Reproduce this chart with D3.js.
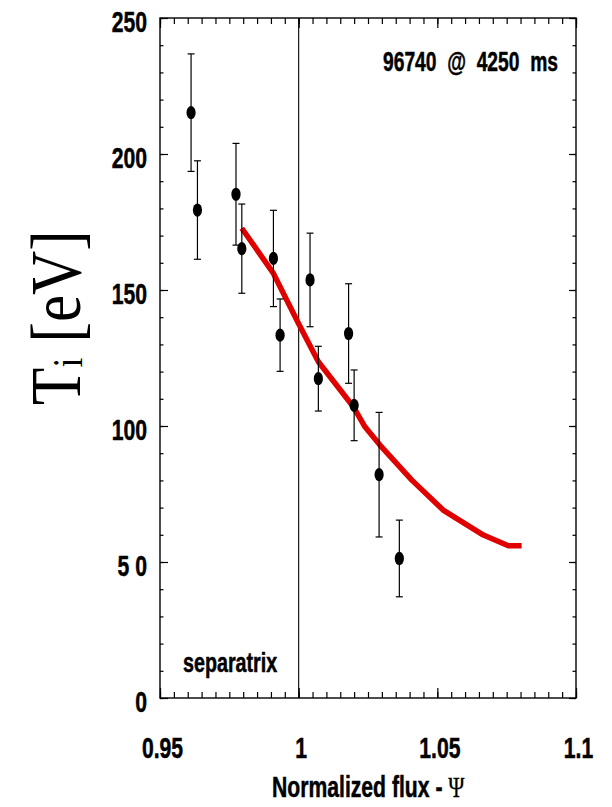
<!DOCTYPE html>
<html>
<head>
<meta charset="utf-8">
<script src="https://cdn.jsdelivr.net/npm/d3@7"></script>
<style>
  html, body { margin: 0; padding: 0; background: #fff; }
  svg { display: block; }
</style>
</head>
<body>
<svg id="chart" width="612" height="807"></svg>
<script>
// Measured ion temperature profile, shot 96740 at 4250 ms
const psi   = [0.9612, 0.9635, 0.9774, 0.9795, 0.9909, 0.9933, 1.0041, 1.0071, 1.0180, 1.0200, 1.0290, 1.0363];
const ti    = [215.2, 179.4, 185.2, 165.2, 161.6, 133.4, 153.7, 117.4, 134.0, 107.6, 82.1, 51.3];
const tiErr = [21.6, 18.1, 18.7, 16.4, 17.7, 13.3, 17.2, 11.9, 18.3, 13.0, 22.9, 14.1];

// Modelled profile (red curve)
const fitPsi = [0.9795, 0.9909, 0.9999, 1.0071, 1.0197, 1.0239, 1.0293, 1.0408, 1.0521, 1.0666, 1.0756, 1.0804];
const fitTi  = [172.7, 156.1, 137.8, 123.6, 107.1, 99.7, 93.0, 80.1, 69.1, 59.9, 56.0, 56.0];

// Axis ticks and labels
const xTicks  = [0.95, 1.0, 1.05, 1.1];
const xLabels = ["0.95", "1", "1.05", "1.1"];
const yTicks  = [0, 50, 100, 150, 200, 250];
const yLabels = ["0", "5 0", "100", "150", "200", "250"];
const separatrixPsi = 1.0;

const svg = d3.select("#chart");
const plotL = 160, plotR = 576, plotT = 18, plotB = 698;
const SANS = "'Liberation Sans', Arial, Helvetica, sans-serif";
const SERIF = "'Liberation Serif', 'Times New Roman', serif";
const NARROW = 0.73;

const x = d3.scaleLinear().domain([0.95, 1.1]).range([plotL, plotR]);
const y = d3.scaleLinear().domain([0, 250]).range([plotB, plotT]);

const xMinor = d3.range(0, 31).map(i => 0.95 + i * 0.005);
const yMinor = d3.range(0, 26).map(i => i * 10);

function styleAxis(g) {
  g.select(".domain").remove();
  g.selectAll("line").attr("stroke", "#000").attr("stroke-width", 1.2);
}

// inward-pointing ticks on all four sides
svg.append("g").attr("transform", `translate(0,${plotB})`)
  .call(d3.axisBottom(x).tickValues(xMinor).tickSize(-6).tickFormat("")).call(styleAxis);
svg.append("g").attr("transform", `translate(0,${plotB})`)
  .call(d3.axisBottom(x).tickValues(xTicks).tickSize(-10).tickFormat("")).call(styleAxis);
svg.append("g").attr("transform", `translate(0,${plotT})`)
  .call(d3.axisTop(x).tickValues(xMinor).tickSize(-6).tickFormat("")).call(styleAxis);
svg.append("g").attr("transform", `translate(0,${plotT})`)
  .call(d3.axisTop(x).tickValues(xTicks).tickSize(-10).tickFormat("")).call(styleAxis);
svg.append("g").attr("transform", `translate(${plotL},0)`)
  .call(d3.axisLeft(y).tickValues(yMinor).tickSize(-3.5).tickFormat("")).call(styleAxis);
svg.append("g").attr("transform", `translate(${plotL},0)`)
  .call(d3.axisLeft(y).tickValues(yTicks).tickSize(-8).tickFormat("")).call(styleAxis);
svg.append("g").attr("transform", `translate(${plotR},0)`)
  .call(d3.axisRight(y).tickValues(yMinor).tickSize(-3.5).tickFormat("")).call(styleAxis);
svg.append("g").attr("transform", `translate(${plotR},0)`)
  .call(d3.axisRight(y).tickValues(yTicks).tickSize(-7).tickFormat("")).call(styleAxis);

// frame
svg.append("rect")
  .attr("x", plotL).attr("y", plotT)
  .attr("width", plotR - plotL).attr("height", plotB - plotT)
  .attr("fill", "none").attr("stroke", "#000").attr("stroke-width", 1.4);

// separatrix line
svg.append("line")
  .attr("x1", x(separatrixPsi)).attr("x2", x(separatrixPsi))
  .attr("y1", plotT).attr("y2", plotB)
  .attr("stroke", "#000").attr("stroke-width", 1.1);

// condensed heavy label helper
function narrowText(px, py, str, size, anchor) {
  return svg.append("text")
    .attr("transform", `translate(${px},${py}) scale(${NARROW},1)`)
    .attr("text-anchor", anchor)
    .attr("font-family", SANS)
    .attr("font-weight", "bold")
    .attr("font-size", size)
    .attr("fill", "#000")
    .attr("stroke", "#000")
    .attr("stroke-width", 0.5)
    .style("white-space", "pre")
    .text(str);
}

yTicks.forEach((v, i) => narrowText(147, y(v) + 14, yLabels[i], 29, "end"));
xTicks.forEach((v, i) => narrowText(x(v) + 2.5, 758, xLabels[i], 29, "middle"));

narrowText(383, 71, "96740  @  4250  ms", 28, "start")
  .attr("textLength", 175 / NARROW).attr("lengthAdjust", "spacingAndGlyphs");
narrowText(183, 672, "separatrix", 27, "start");

// x-axis title with serif Psi
const xt = narrowText(272, 797, "", 29, "start");
xt.append("tspan").text("Normalized flux - ");
xt.append("tspan").attr("font-family", SERIF).attr("font-weight", "normal")
  .attr("stroke-width", 0.3).attr("font-size", 30).text("\u03A8");

// y-axis title (serif, slightly compressed along the text)
const yt = svg.append("text")
  .attr("transform", "translate(80,405) rotate(-90) scale(0.85,1)")
  .attr("font-family", SERIF)
  .attr("font-size", 72)
  .attr("fill", "#000");
yt.append("tspan").text("T");
yt.append("tspan").attr("font-size", 42).attr("dy", 2).text("i");
yt.append("tspan").attr("dy", -2).text(" [eV]");

// model curve
const line = d3.line().x(d => x(d[0])).y(d => y(d[1]));
svg.append("path")
  .datum(fitPsi.map((p, i) => [p, fitTi[i]]))
  .attr("d", line)
  .attr("fill", "none")
  .attr("stroke", "#e00000")
  .attr("stroke-width", 5.5)
  .attr("stroke-linejoin", "round");

// error bars and markers
const pts = psi.map((p, i) => ({ p, t: ti[i], e: tiErr[i] }));
const eb = svg.append("g").attr("stroke", "#000").attr("stroke-width", 1.2);
pts.forEach(d => {
  eb.append("line").attr("x1", x(d.p)).attr("x2", x(d.p))
    .attr("y1", y(d.t + d.e)).attr("y2", y(d.t - d.e));
  [d.t + d.e, d.t - d.e].forEach(v => {
    eb.append("line").attr("x1", x(d.p) - 3.5).attr("x2", x(d.p) + 3.5)
      .attr("y1", y(v)).attr("y2", y(v));
  });
});
svg.append("g").selectAll("ellipse").data(pts).join("ellipse")
  .attr("cx", d => x(d.p)).attr("cy", d => y(d.t))
  .attr("rx", 4.6).attr("ry", 6.6)
  .attr("fill", "#000");
</script>
</body>
</html>
